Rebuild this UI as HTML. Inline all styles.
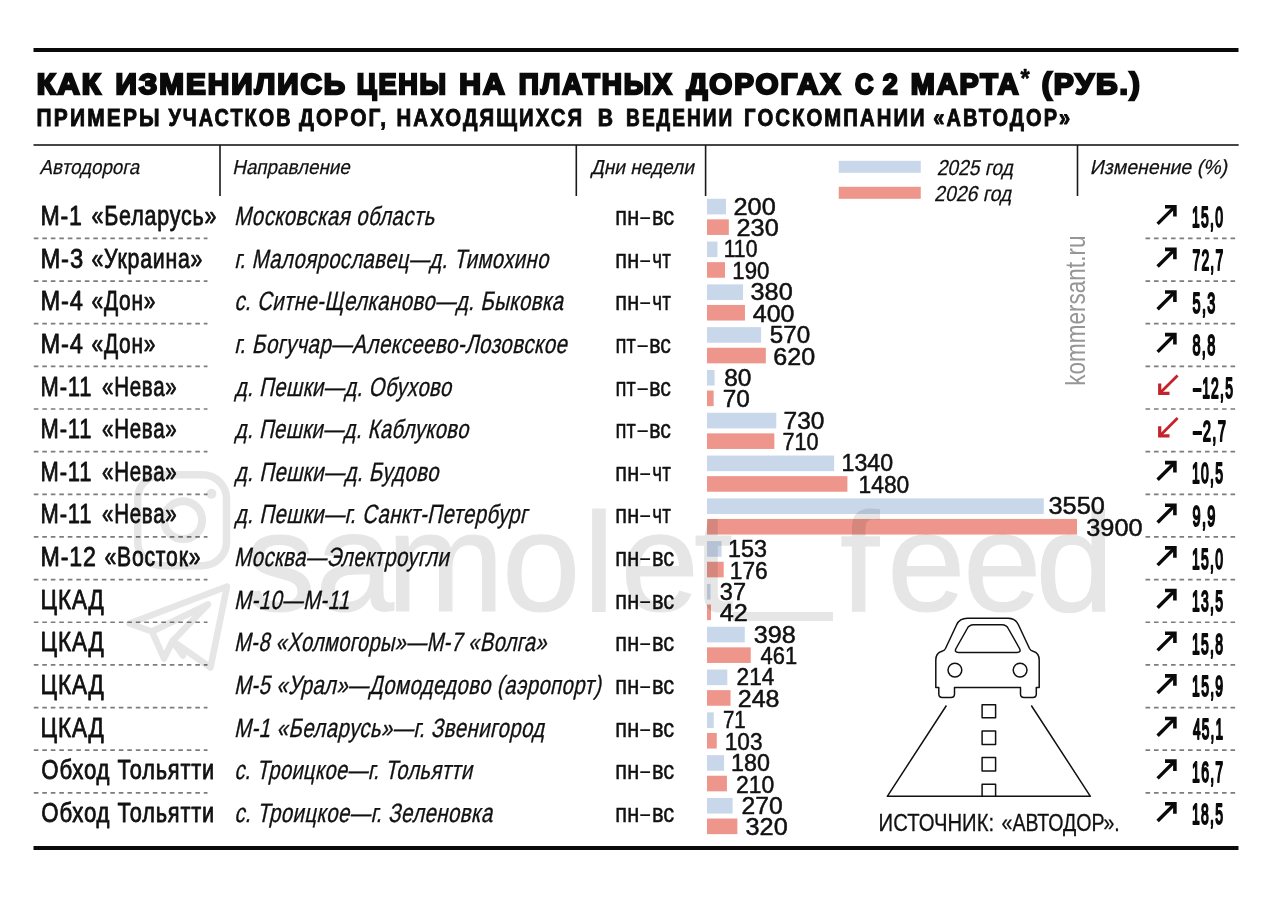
<!DOCTYPE html>
<html lang="ru"><head><meta charset="utf-8"><title>Как изменились цены на платных дорогах</title>
<style>html,body{margin:0;padding:0;background:#fff}svg{display:block}text{font-family:"Liberation Sans",sans-serif;white-space:pre}</style>
</head><body>
<svg width="1280" height="898" viewBox="0 0 1280 898">
<rect width="1280" height="898" fill="#fff"/>
<rect x="33.50" y="48.00" width="1205.00" height="4.00" fill="#0a0a0a"/>
<rect x="33.50" y="846.00" width="1205.00" height="4.00" fill="#0a0a0a"/>
<rect x="33.50" y="144.20" width="1205.20" height="1.60" fill="#1a1a1a"/>
<rect x="219.20" y="145.00" width="1.60" height="51.00" fill="#1a1a1a"/>
<rect x="575.50" y="145.00" width="1.60" height="51.00" fill="#1a1a1a"/>
<rect x="704.80" y="145.00" width="1.60" height="51.00" fill="#1a1a1a"/>
<rect x="1076.70" y="145.00" width="1.60" height="51.00" fill="#1a1a1a"/>
<text transform="translate(36.72,93.50) scale(1.0210,1)" font-size="30.2" font-weight="700" font-style="normal" fill="#0a0a0a" stroke="#0a0a0a" stroke-width="2.4" stroke-linejoin="miter" letter-spacing="2.0">КАК</text>
<text transform="translate(115.50,93.50) scale(0.9826,1)" font-size="30.2" font-weight="700" font-style="normal" fill="#0a0a0a" stroke="#0a0a0a" stroke-width="2.4" stroke-linejoin="miter" letter-spacing="2.0">ИЗМЕНИЛИСЬ</text>
<text transform="translate(356.82,93.50) scale(0.8971,1)" font-size="30.2" font-weight="700" font-style="normal" fill="#0a0a0a" stroke="#0a0a0a" stroke-width="2.4" stroke-linejoin="miter" letter-spacing="2.0">ЦЕНЫ</text>
<text transform="translate(459.24,93.50) scale(0.9962,1)" font-size="30.2" font-weight="700" font-style="normal" fill="#0a0a0a" stroke="#0a0a0a" stroke-width="2.4" stroke-linejoin="miter" letter-spacing="2.0">НА</text>
<text transform="translate(518.79,93.50) scale(0.9259,1)" font-size="30.2" font-weight="700" font-style="normal" fill="#0a0a0a" stroke="#0a0a0a" stroke-width="2.4" stroke-linejoin="miter" letter-spacing="2.0">ПЛАТНЫХ</text>
<text transform="translate(686.38,93.50) scale(0.9783,1)" font-size="30.2" font-weight="700" font-style="normal" fill="#0a0a0a" stroke="#0a0a0a" stroke-width="2.4" stroke-linejoin="miter" letter-spacing="2.0">ДОРОГАХ</text>
<text transform="translate(854.99,93.50) scale(0.8453,1)" font-size="30.2" font-weight="700" font-style="normal" fill="#0a0a0a" stroke="#0a0a0a" stroke-width="2.4" stroke-linejoin="miter" letter-spacing="2.0">С</text>
<text transform="translate(882.63,93.50) scale(0.8878,1)" font-size="30.2" font-weight="700" font-style="normal" fill="#0a0a0a" stroke="#0a0a0a" stroke-width="2.4" stroke-linejoin="miter" letter-spacing="2.0">2</text>
<text transform="translate(910.77,93.50) scale(0.9545,1)" font-size="30.2" font-weight="700" font-style="normal" fill="#0a0a0a" stroke="#0a0a0a" stroke-width="2.4" stroke-linejoin="miter" letter-spacing="2.0">МАРТА</text>
<text transform="translate(1041.69,93.50) scale(0.9942,1)" font-size="30.2" font-weight="700" font-style="normal" fill="#0a0a0a" stroke="#0a0a0a" stroke-width="2.4" stroke-linejoin="miter" letter-spacing="2.0">(РУБ.)</text>
<text transform="translate(1020.45,87.00) scale(0.9065,1)" font-size="26" font-weight="700" font-style="normal" fill="#0a0a0a" stroke="#0a0a0a" stroke-width="0.6" stroke-linejoin="round">*</text>
<text transform="translate(36.54,125.90) scale(0.8974,1)" font-size="23.4" font-weight="700" font-style="normal" fill="#0a0a0a" stroke="#0a0a0a" stroke-width="0.9" stroke-linejoin="miter" letter-spacing="2.4">ПРИМЕРЫ</text>
<text transform="translate(168.38,125.90) scale(0.8476,1)" font-size="23.4" font-weight="700" font-style="normal" fill="#0a0a0a" stroke="#0a0a0a" stroke-width="0.9" stroke-linejoin="miter" letter-spacing="2.4">УЧАСТКОВ</text>
<text transform="translate(298.94,125.90) scale(0.8933,1)" font-size="23.4" font-weight="700" font-style="normal" fill="#0a0a0a" stroke="#0a0a0a" stroke-width="0.9" stroke-linejoin="miter" letter-spacing="2.4">ДОРОГ,</text>
<text transform="translate(396.57,125.90) scale(0.8707,1)" font-size="23.4" font-weight="700" font-style="normal" fill="#0a0a0a" stroke="#0a0a0a" stroke-width="0.9" stroke-linejoin="miter" letter-spacing="2.4">НАХОДЯЩИХСЯ</text>
<text transform="translate(597.78,125.90) scale(0.9062,1)" font-size="23.4" font-weight="700" font-style="normal" fill="#0a0a0a" stroke="#0a0a0a" stroke-width="0.9" stroke-linejoin="miter" letter-spacing="2.4">В</text>
<text transform="translate(626.12,125.90) scale(0.8176,1)" font-size="23.4" font-weight="700" font-style="normal" fill="#0a0a0a" stroke="#0a0a0a" stroke-width="0.9" stroke-linejoin="miter" letter-spacing="2.4">ВЕДЕНИИ</text>
<text transform="translate(744.07,125.90) scale(0.8677,1)" font-size="23.4" font-weight="700" font-style="normal" fill="#0a0a0a" stroke="#0a0a0a" stroke-width="0.9" stroke-linejoin="miter" letter-spacing="2.4">ГОСКОМПАНИИ</text>
<text transform="translate(933.23,125.90) scale(0.8551,1)" font-size="23.4" font-weight="700" font-style="normal" fill="#0a0a0a" stroke="#0a0a0a" stroke-width="0.9" stroke-linejoin="miter" letter-spacing="2.4">«АВТОДОР»</text>
<text transform="translate(39.59,173.75) skewX(-12) scale(0.9239,1)" font-size="20.3" font-weight="400" font-style="normal" fill="#111" stroke="#111" stroke-width="0.25" stroke-linejoin="round">Автодорога</text>
<text transform="translate(232.34,173.75) skewX(-12) scale(0.9263,1)" font-size="20.3" font-weight="400" font-style="normal" fill="#111" stroke="#111" stroke-width="0.25" stroke-linejoin="round">Направление</text>
<text transform="translate(590.86,173.75) skewX(-12) scale(0.9402,1)" font-size="20.3" font-weight="400" font-style="normal" fill="#111" stroke="#111" stroke-width="0.25" stroke-linejoin="round">Дни недели</text>
<text transform="translate(1089.79,173.75) skewX(-12) scale(0.9620,1)" font-size="20.3" font-weight="400" font-style="normal" fill="#111" stroke="#111" stroke-width="0.25" stroke-linejoin="round">Изменение (%)</text>
<rect x="838.75" y="160.80" width="82.00" height="12.00" fill="#c9d7ea"/>
<rect x="838.75" y="186.80" width="82.00" height="12.00" fill="#ee968b"/>
<text transform="translate(936.63,174.50) skewX(-12) scale(0.8953,1)" font-size="21.5" font-weight="400" font-style="normal" fill="#111" stroke="#111" stroke-width="0.25" stroke-linejoin="round">2025 год</text>
<text transform="translate(934.12,200.75) skewX(-12) scale(0.9044,1)" font-size="21.5" font-weight="400" font-style="normal" fill="#111" stroke="#111" stroke-width="0.25" stroke-linejoin="round">2026 год</text>
<text transform="translate(40.49,225.00) scale(0.8558,1)" font-size="27" font-weight="400" font-style="normal" fill="#111" stroke="#111" stroke-width="0.8" stroke-linejoin="round" letter-spacing="1.0">М-1</text>
<text transform="translate(91.46,225.00) scale(0.7962,1)" font-size="27" font-weight="400" font-style="normal" fill="#111" stroke="#111" stroke-width="0.8" stroke-linejoin="round" letter-spacing="1.0">«Беларусь»</text>
<text transform="translate(233.97,225.00) skewX(-12) scale(0.7750,1)" font-size="26.4" font-weight="400" font-style="normal" fill="#111" stroke="#111" stroke-width="0.35" stroke-linejoin="round" letter-spacing="0.5">Московская область</text>
<text transform="translate(615.33,225.00) scale(0.8389,1)" font-size="26" font-weight="400" font-style="normal" fill="#111" stroke="#111" stroke-width="0.5" stroke-linejoin="round">пн</text>
<text transform="translate(640.20,225.00) scale(0.6791,1)" font-size="26" font-weight="400" font-style="normal" fill="#111">–</text>
<text transform="translate(651.98,225.00) scale(0.8391,1)" font-size="26" font-weight="400" font-style="normal" fill="#111" stroke="#111" stroke-width="0.5" stroke-linejoin="round">вс</text>
<rect x="707.00" y="198.75" width="18.97" height="15.60" fill="#c9d7ea"/>
<rect x="707.00" y="219.35" width="21.82" height="15.60" fill="#ee968b"/>
<text transform="translate(733.50,214.55) scale(1.0763,1)" font-size="23.5" font-weight="400" font-style="normal" fill="#111" stroke="#111" stroke-width="0.5" stroke-linejoin="round">200</text>
<text transform="translate(736.50,236.25) scale(1.0763,1)" font-size="23.5" font-weight="400" font-style="normal" fill="#111" stroke="#111" stroke-width="0.5" stroke-linejoin="round">230</text>
<text transform="translate(1192.11,227.30) scale(0.4831,1)" font-size="28.8" font-weight="400" font-style="normal" fill="#0a0a0a" stroke="#0a0a0a" stroke-width="1.7" stroke-linejoin="round" vector-effect="non-scaling-stroke" letter-spacing="2.6">15,0</text>
<g transform="translate(0,0.00)" fill="none" stroke="#0a0a0a" stroke-width="3.4"><path d="M1157.6 223.9 L1174.4 207.1"/><path d="M1165 206.7 H1174.9 V216.6" stroke-width="3.6"/></g>
<text transform="translate(40.45,267.62) scale(0.8804,1)" font-size="27" font-weight="400" font-style="normal" fill="#111" stroke="#111" stroke-width="0.8" stroke-linejoin="round" letter-spacing="1.0">М-3</text>
<text transform="translate(91.46,267.62) scale(0.7886,1)" font-size="27" font-weight="400" font-style="normal" fill="#111" stroke="#111" stroke-width="0.8" stroke-linejoin="round" letter-spacing="1.0">«Украина»</text>
<text transform="translate(234.19,267.62) skewX(-12) scale(0.7692,1)" font-size="26.4" font-weight="400" font-style="normal" fill="#111" stroke="#111" stroke-width="0.35" stroke-linejoin="round" letter-spacing="0.5">г. Малоярославец—д. Тимохино</text>
<text transform="translate(615.33,267.62) scale(0.8389,1)" font-size="26" font-weight="400" font-style="normal" fill="#111" stroke="#111" stroke-width="0.5" stroke-linejoin="round">пн</text>
<text transform="translate(640.20,267.62) scale(0.6791,1)" font-size="26" font-weight="400" font-style="normal" fill="#111">–</text>
<text transform="translate(652.35,267.62) scale(0.7238,1)" font-size="26" font-weight="400" font-style="normal" fill="#111" stroke="#111" stroke-width="0.5" stroke-linejoin="round">чт</text>
<rect x="707.00" y="241.55" width="10.44" height="15.60" fill="#c9d7ea"/>
<rect x="707.00" y="262.15" width="18.03" height="15.60" fill="#ee968b"/>
<text transform="translate(723.63,257.35) scale(0.9040,1)" font-size="23.5" font-weight="400" font-style="normal" fill="#111" stroke="#111" stroke-width="0.5" stroke-linejoin="round">110</text>
<text transform="translate(732.32,279.05) scale(0.9449,1)" font-size="23.5" font-weight="400" font-style="normal" fill="#111" stroke="#111" stroke-width="0.5" stroke-linejoin="round">190</text>
<text transform="translate(1192.46,269.95) scale(0.4808,1)" font-size="28.8" font-weight="400" font-style="normal" fill="#0a0a0a" stroke="#0a0a0a" stroke-width="1.7" stroke-linejoin="round" vector-effect="non-scaling-stroke" letter-spacing="2.6">72,7</text>
<g transform="translate(0,42.65)" fill="none" stroke="#0a0a0a" stroke-width="3.4"><path d="M1157.6 223.9 L1174.4 207.1"/><path d="M1165 206.7 H1174.9 V216.6" stroke-width="3.6"/></g>
<text transform="translate(40.46,310.25) scale(0.8753,1)" font-size="27" font-weight="400" font-style="normal" fill="#111" stroke="#111" stroke-width="0.8" stroke-linejoin="round" letter-spacing="1.0">М-4</text>
<text transform="translate(91.47,310.25) scale(0.7758,1)" font-size="27" font-weight="400" font-style="normal" fill="#111" stroke="#111" stroke-width="0.8" stroke-linejoin="round" letter-spacing="1.0">«Дон»</text>
<text transform="translate(234.17,310.25) skewX(-12) scale(0.7746,1)" font-size="26.4" font-weight="400" font-style="normal" fill="#111" stroke="#111" stroke-width="0.35" stroke-linejoin="round" letter-spacing="0.5">с. Ситне-Щелканово—д. Быковка</text>
<text transform="translate(615.33,310.25) scale(0.8389,1)" font-size="26" font-weight="400" font-style="normal" fill="#111" stroke="#111" stroke-width="0.5" stroke-linejoin="round">пн</text>
<text transform="translate(640.20,310.25) scale(0.6791,1)" font-size="26" font-weight="400" font-style="normal" fill="#111">–</text>
<text transform="translate(652.35,310.25) scale(0.7238,1)" font-size="26" font-weight="400" font-style="normal" fill="#111" stroke="#111" stroke-width="0.5" stroke-linejoin="round">чт</text>
<rect x="707.00" y="284.35" width="36.05" height="15.60" fill="#c9d7ea"/>
<rect x="707.00" y="304.95" width="37.95" height="15.60" fill="#ee968b"/>
<text transform="translate(750.51,300.15) scale(1.0762,1)" font-size="23.5" font-weight="400" font-style="normal" fill="#111" stroke="#111" stroke-width="0.5" stroke-linejoin="round">380</text>
<text transform="translate(752.77,321.85) scale(1.0630,1)" font-size="23.5" font-weight="400" font-style="normal" fill="#111" stroke="#111" stroke-width="0.5" stroke-linejoin="round">400</text>
<text transform="translate(1192.57,312.60) scale(0.5008,1)" font-size="28.8" font-weight="400" font-style="normal" fill="#0a0a0a" stroke="#0a0a0a" stroke-width="1.7" stroke-linejoin="round" vector-effect="non-scaling-stroke" letter-spacing="2.6">5,3</text>
<g transform="translate(0,85.30)" fill="none" stroke="#0a0a0a" stroke-width="3.4"><path d="M1157.6 223.9 L1174.4 207.1"/><path d="M1165 206.7 H1174.9 V216.6" stroke-width="3.6"/></g>
<text transform="translate(40.46,352.88) scale(0.8753,1)" font-size="27" font-weight="400" font-style="normal" fill="#111" stroke="#111" stroke-width="0.8" stroke-linejoin="round" letter-spacing="1.0">М-4</text>
<text transform="translate(91.47,352.88) scale(0.7758,1)" font-size="27" font-weight="400" font-style="normal" fill="#111" stroke="#111" stroke-width="0.8" stroke-linejoin="round" letter-spacing="1.0">«Дон»</text>
<text transform="translate(234.16,352.88) skewX(-12) scale(0.7818,1)" font-size="26.4" font-weight="400" font-style="normal" fill="#111" stroke="#111" stroke-width="0.35" stroke-linejoin="round" letter-spacing="0.5">г. Богучар—Алексеево-Лозовское</text>
<text transform="translate(615.43,352.88) scale(0.7802,1)" font-size="26" font-weight="400" font-style="normal" fill="#111" stroke="#111" stroke-width="0.5" stroke-linejoin="round">пт</text>
<text transform="translate(637.40,352.88) scale(0.7138,1)" font-size="26" font-weight="400" font-style="normal" fill="#111">–</text>
<text transform="translate(649.21,352.88) scale(0.8187,1)" font-size="26" font-weight="400" font-style="normal" fill="#111" stroke="#111" stroke-width="0.5" stroke-linejoin="round">вс</text>
<rect x="707.00" y="327.15" width="54.08" height="15.60" fill="#c9d7ea"/>
<rect x="707.00" y="347.75" width="58.82" height="15.60" fill="#ee968b"/>
<text transform="translate(769.79,342.95) scale(1.0300,1)" font-size="23.5" font-weight="400" font-style="normal" fill="#111" stroke="#111" stroke-width="0.5" stroke-linejoin="round">570</text>
<text transform="translate(773.26,364.65) scale(1.0696,1)" font-size="23.5" font-weight="400" font-style="normal" fill="#111" stroke="#111" stroke-width="0.5" stroke-linejoin="round">620</text>
<text transform="translate(1192.50,355.25) scale(0.5025,1)" font-size="28.8" font-weight="400" font-style="normal" fill="#0a0a0a" stroke="#0a0a0a" stroke-width="1.7" stroke-linejoin="round" vector-effect="non-scaling-stroke" letter-spacing="2.6">8,8</text>
<g transform="translate(0,127.95)" fill="none" stroke="#0a0a0a" stroke-width="3.4"><path d="M1157.6 223.9 L1174.4 207.1"/><path d="M1165 206.7 H1174.9 V216.6" stroke-width="3.6"/></g>
<text transform="translate(40.57,395.50) scale(0.8130,1)" font-size="27" font-weight="400" font-style="normal" fill="#111" stroke="#111" stroke-width="0.8" stroke-linejoin="round" letter-spacing="1.0">М-11</text>
<text transform="translate(101.98,395.50) scale(0.7588,1)" font-size="27" font-weight="400" font-style="normal" fill="#111" stroke="#111" stroke-width="0.8" stroke-linejoin="round" letter-spacing="1.0">«Нева»</text>
<text transform="translate(234.78,395.50) skewX(-12) scale(0.7706,1)" font-size="26.4" font-weight="400" font-style="normal" fill="#111" stroke="#111" stroke-width="0.35" stroke-linejoin="round" letter-spacing="0.5">д. Пешки—д. Обухово</text>
<text transform="translate(615.43,395.50) scale(0.7802,1)" font-size="26" font-weight="400" font-style="normal" fill="#111" stroke="#111" stroke-width="0.5" stroke-linejoin="round">пт</text>
<text transform="translate(637.40,395.50) scale(0.7138,1)" font-size="26" font-weight="400" font-style="normal" fill="#111">–</text>
<text transform="translate(649.21,395.50) scale(0.8187,1)" font-size="26" font-weight="400" font-style="normal" fill="#111" stroke="#111" stroke-width="0.5" stroke-linejoin="round">вс</text>
<rect x="707.00" y="369.95" width="7.59" height="15.60" fill="#c9d7ea"/>
<rect x="707.00" y="390.55" width="6.64" height="15.60" fill="#ee968b"/>
<text transform="translate(724.16,385.75) scale(1.0423,1)" font-size="23.5" font-weight="400" font-style="normal" fill="#111" stroke="#111" stroke-width="0.5" stroke-linejoin="round">80</text>
<text transform="translate(722.79,407.45) scale(1.0371,1)" font-size="23.5" font-weight="400" font-style="normal" fill="#111" stroke="#111" stroke-width="0.5" stroke-linejoin="round">70</text>
<text transform="translate(1193.15,397.90) scale(0.4825,1)" font-size="28.8" font-weight="400" font-style="normal" fill="#0a0a0a" stroke="#0a0a0a" stroke-width="1.7" stroke-linejoin="round" vector-effect="non-scaling-stroke" letter-spacing="2.6">–12,5</text>
<g transform="translate(0,0.00)" fill="none" stroke="#c4232b" stroke-width="2.8"><path d="M1177.6 375.4 L1160.2 392.8"/><path d="M1159.7 383.5 V393.3 H1169.5" stroke-width="3.2"/></g>
<text transform="translate(40.57,438.12) scale(0.8130,1)" font-size="27" font-weight="400" font-style="normal" fill="#111" stroke="#111" stroke-width="0.8" stroke-linejoin="round" letter-spacing="1.0">М-11</text>
<text transform="translate(101.98,438.12) scale(0.7588,1)" font-size="27" font-weight="400" font-style="normal" fill="#111" stroke="#111" stroke-width="0.8" stroke-linejoin="round" letter-spacing="1.0">«Нева»</text>
<text transform="translate(234.78,438.12) skewX(-12) scale(0.7651,1)" font-size="26.4" font-weight="400" font-style="normal" fill="#111" stroke="#111" stroke-width="0.35" stroke-linejoin="round" letter-spacing="0.5">д. Пешки—д. Каблуково</text>
<text transform="translate(615.43,438.12) scale(0.7802,1)" font-size="26" font-weight="400" font-style="normal" fill="#111" stroke="#111" stroke-width="0.5" stroke-linejoin="round">пт</text>
<text transform="translate(637.40,438.12) scale(0.7138,1)" font-size="26" font-weight="400" font-style="normal" fill="#111">–</text>
<text transform="translate(649.21,438.12) scale(0.8187,1)" font-size="26" font-weight="400" font-style="normal" fill="#111" stroke="#111" stroke-width="0.5" stroke-linejoin="round">вс</text>
<rect x="707.00" y="412.75" width="69.26" height="15.60" fill="#c9d7ea"/>
<rect x="707.00" y="433.35" width="67.36" height="15.60" fill="#ee968b"/>
<text transform="translate(783.54,428.55) scale(1.0431,1)" font-size="23.5" font-weight="400" font-style="normal" fill="#111" stroke="#111" stroke-width="0.5" stroke-linejoin="round">730</text>
<text transform="translate(782.40,450.25) scale(0.9235,1)" font-size="23.5" font-weight="400" font-style="normal" fill="#111" stroke="#111" stroke-width="0.5" stroke-linejoin="round">710</text>
<text transform="translate(1193.15,440.55) scale(0.5130,1)" font-size="28.8" font-weight="400" font-style="normal" fill="#0a0a0a" stroke="#0a0a0a" stroke-width="1.7" stroke-linejoin="round" vector-effect="non-scaling-stroke" letter-spacing="2.6">–2,7</text>
<g transform="translate(0,42.65)" fill="none" stroke="#c4232b" stroke-width="2.8"><path d="M1177.6 375.4 L1160.2 392.8"/><path d="M1159.7 383.5 V393.3 H1169.5" stroke-width="3.2"/></g>
<text transform="translate(40.57,480.75) scale(0.8130,1)" font-size="27" font-weight="400" font-style="normal" fill="#111" stroke="#111" stroke-width="0.8" stroke-linejoin="round" letter-spacing="1.0">М-11</text>
<text transform="translate(101.98,480.75) scale(0.7588,1)" font-size="27" font-weight="400" font-style="normal" fill="#111" stroke="#111" stroke-width="0.8" stroke-linejoin="round" letter-spacing="1.0">«Нева»</text>
<text transform="translate(234.78,480.75) skewX(-12) scale(0.7717,1)" font-size="26.4" font-weight="400" font-style="normal" fill="#111" stroke="#111" stroke-width="0.35" stroke-linejoin="round" letter-spacing="0.5">д. Пешки—д. Будово</text>
<text transform="translate(615.33,480.75) scale(0.8389,1)" font-size="26" font-weight="400" font-style="normal" fill="#111" stroke="#111" stroke-width="0.5" stroke-linejoin="round">пн</text>
<text transform="translate(640.20,480.75) scale(0.6791,1)" font-size="26" font-weight="400" font-style="normal" fill="#111">–</text>
<text transform="translate(652.35,480.75) scale(0.7238,1)" font-size="26" font-weight="400" font-style="normal" fill="#111" stroke="#111" stroke-width="0.5" stroke-linejoin="round">чт</text>
<rect x="707.00" y="455.55" width="127.13" height="15.60" fill="#c9d7ea"/>
<rect x="707.00" y="476.15" width="140.41" height="15.60" fill="#ee968b"/>
<text transform="translate(841.51,471.35) scale(0.9860,1)" font-size="23.5" font-weight="400" font-style="normal" fill="#111" stroke="#111" stroke-width="0.5" stroke-linejoin="round">1340</text>
<text transform="translate(858.53,493.05) scale(0.9711,1)" font-size="23.5" font-weight="400" font-style="normal" fill="#111" stroke="#111" stroke-width="0.5" stroke-linejoin="round">1480</text>
<text transform="translate(1192.10,483.20) scale(0.4843,1)" font-size="28.8" font-weight="400" font-style="normal" fill="#0a0a0a" stroke="#0a0a0a" stroke-width="1.7" stroke-linejoin="round" vector-effect="non-scaling-stroke" letter-spacing="2.6">10,5</text>
<g transform="translate(0,255.90)" fill="none" stroke="#0a0a0a" stroke-width="3.4"><path d="M1157.6 223.9 L1174.4 207.1"/><path d="M1165 206.7 H1174.9 V216.6" stroke-width="3.6"/></g>
<text transform="translate(40.57,523.38) scale(0.8130,1)" font-size="27" font-weight="400" font-style="normal" fill="#111" stroke="#111" stroke-width="0.8" stroke-linejoin="round" letter-spacing="1.0">М-11</text>
<text transform="translate(101.98,523.38) scale(0.7588,1)" font-size="27" font-weight="400" font-style="normal" fill="#111" stroke="#111" stroke-width="0.8" stroke-linejoin="round" letter-spacing="1.0">«Нева»</text>
<text transform="translate(234.78,523.38) skewX(-12) scale(0.7728,1)" font-size="26.4" font-weight="400" font-style="normal" fill="#111" stroke="#111" stroke-width="0.35" stroke-linejoin="round" letter-spacing="0.5">д. Пешки—г. Санкт-Петербург</text>
<text transform="translate(615.33,523.38) scale(0.8389,1)" font-size="26" font-weight="400" font-style="normal" fill="#111" stroke="#111" stroke-width="0.5" stroke-linejoin="round">пн</text>
<text transform="translate(640.20,523.38) scale(0.6791,1)" font-size="26" font-weight="400" font-style="normal" fill="#111">–</text>
<text transform="translate(652.35,523.38) scale(0.7238,1)" font-size="26" font-weight="400" font-style="normal" fill="#111" stroke="#111" stroke-width="0.5" stroke-linejoin="round">чт</text>
<rect x="707.00" y="498.35" width="336.79" height="15.60" fill="#c9d7ea"/>
<rect x="707.00" y="518.95" width="369.99" height="15.60" fill="#ee968b"/>
<text transform="translate(1048.51,514.15) scale(1.0779,1)" font-size="23.5" font-weight="400" font-style="normal" fill="#111" stroke="#111" stroke-width="0.5" stroke-linejoin="round">3550</text>
<text transform="translate(1086.26,535.85) scale(1.0779,1)" font-size="23.5" font-weight="400" font-style="normal" fill="#111" stroke="#111" stroke-width="0.5" stroke-linejoin="round">3900</text>
<text transform="translate(1192.50,525.85) scale(0.5042,1)" font-size="28.8" font-weight="400" font-style="normal" fill="#0a0a0a" stroke="#0a0a0a" stroke-width="1.7" stroke-linejoin="round" vector-effect="non-scaling-stroke" letter-spacing="2.6">9,9</text>
<g transform="translate(0,298.55)" fill="none" stroke="#0a0a0a" stroke-width="3.4"><path d="M1157.6 223.9 L1174.4 207.1"/><path d="M1165 206.7 H1174.9 V216.6" stroke-width="3.6"/></g>
<text transform="translate(40.49,566.00) scale(0.8588,1)" font-size="27" font-weight="400" font-style="normal" fill="#111" stroke="#111" stroke-width="0.8" stroke-linejoin="round" letter-spacing="1.0">М-12</text>
<text transform="translate(104.47,566.00) scale(0.7847,1)" font-size="27" font-weight="400" font-style="normal" fill="#111" stroke="#111" stroke-width="0.8" stroke-linejoin="round" letter-spacing="1.0">«Восток»</text>
<text transform="translate(233.98,566.00) skewX(-12) scale(0.7708,1)" font-size="26.4" font-weight="400" font-style="normal" fill="#111" stroke="#111" stroke-width="0.35" stroke-linejoin="round" letter-spacing="0.5">Москва—Электроугли</text>
<text transform="translate(615.33,566.00) scale(0.8389,1)" font-size="26" font-weight="400" font-style="normal" fill="#111" stroke="#111" stroke-width="0.5" stroke-linejoin="round">пн</text>
<text transform="translate(640.20,566.00) scale(0.6791,1)" font-size="26" font-weight="400" font-style="normal" fill="#111">–</text>
<text transform="translate(651.98,566.00) scale(0.8391,1)" font-size="26" font-weight="400" font-style="normal" fill="#111" stroke="#111" stroke-width="0.5" stroke-linejoin="round">вс</text>
<rect x="707.00" y="541.15" width="14.52" height="15.60" fill="#c9d7ea"/>
<rect x="707.00" y="561.75" width="16.70" height="15.60" fill="#ee968b"/>
<text transform="translate(727.99,556.95) scale(0.9953,1)" font-size="23.5" font-weight="400" font-style="normal" fill="#111" stroke="#111" stroke-width="0.5" stroke-linejoin="round">153</text>
<text transform="translate(729.79,578.65) scale(0.9682,1)" font-size="23.5" font-weight="400" font-style="normal" fill="#111" stroke="#111" stroke-width="0.5" stroke-linejoin="round">176</text>
<text transform="translate(1192.11,568.50) scale(0.4831,1)" font-size="28.8" font-weight="400" font-style="normal" fill="#0a0a0a" stroke="#0a0a0a" stroke-width="1.7" stroke-linejoin="round" vector-effect="non-scaling-stroke" letter-spacing="2.6">15,0</text>
<g transform="translate(0,341.20)" fill="none" stroke="#0a0a0a" stroke-width="3.4"><path d="M1157.6 223.9 L1174.4 207.1"/><path d="M1165 206.7 H1174.9 V216.6" stroke-width="3.6"/></g>
<text transform="translate(40.53,608.62) scale(0.8329,1)" font-size="27" font-weight="400" font-style="normal" fill="#111" stroke="#111" stroke-width="0.8" stroke-linejoin="round" letter-spacing="1.0">ЦКАД</text>
<text transform="translate(233.97,608.62) skewX(-12) scale(0.7745,1)" font-size="26.4" font-weight="400" font-style="normal" fill="#111" stroke="#111" stroke-width="0.35" stroke-linejoin="round" letter-spacing="0.5">М-10—М-11</text>
<text transform="translate(615.33,608.62) scale(0.8389,1)" font-size="26" font-weight="400" font-style="normal" fill="#111" stroke="#111" stroke-width="0.5" stroke-linejoin="round">пн</text>
<text transform="translate(640.20,608.62) scale(0.6791,1)" font-size="26" font-weight="400" font-style="normal" fill="#111">–</text>
<text transform="translate(651.98,608.62) scale(0.8391,1)" font-size="26" font-weight="400" font-style="normal" fill="#111" stroke="#111" stroke-width="0.5" stroke-linejoin="round">вс</text>
<rect x="707.00" y="583.95" width="3.51" height="15.60" fill="#c9d7ea"/>
<rect x="707.00" y="604.55" width="3.98" height="15.60" fill="#ee968b"/>
<text transform="translate(719.81,599.75) scale(1.0012,1)" font-size="23.5" font-weight="400" font-style="normal" fill="#111" stroke="#111" stroke-width="0.5" stroke-linejoin="round">37</text>
<text transform="translate(719.76,621.45) scale(1.0726,1)" font-size="23.5" font-weight="400" font-style="normal" fill="#111" stroke="#111" stroke-width="0.5" stroke-linejoin="round">42</text>
<text transform="translate(1192.10,611.15) scale(0.4843,1)" font-size="28.8" font-weight="400" font-style="normal" fill="#0a0a0a" stroke="#0a0a0a" stroke-width="1.7" stroke-linejoin="round" vector-effect="non-scaling-stroke" letter-spacing="2.6">13,5</text>
<g transform="translate(0,383.85)" fill="none" stroke="#0a0a0a" stroke-width="3.4"><path d="M1157.6 223.9 L1174.4 207.1"/><path d="M1165 206.7 H1174.9 V216.6" stroke-width="3.6"/></g>
<text transform="translate(40.53,651.25) scale(0.8329,1)" font-size="27" font-weight="400" font-style="normal" fill="#111" stroke="#111" stroke-width="0.8" stroke-linejoin="round" letter-spacing="1.0">ЦКАД</text>
<text transform="translate(234.00,651.25) skewX(-12) scale(0.7593,1)" font-size="26.4" font-weight="400" font-style="normal" fill="#111" stroke="#111" stroke-width="0.35" stroke-linejoin="round" letter-spacing="0.5">М-8 «Холмогоры»—М-7 «Волга»</text>
<text transform="translate(615.33,651.25) scale(0.8389,1)" font-size="26" font-weight="400" font-style="normal" fill="#111" stroke="#111" stroke-width="0.5" stroke-linejoin="round">пн</text>
<text transform="translate(640.20,651.25) scale(0.6791,1)" font-size="26" font-weight="400" font-style="normal" fill="#111">–</text>
<text transform="translate(651.98,651.25) scale(0.8391,1)" font-size="26" font-weight="400" font-style="normal" fill="#111" stroke="#111" stroke-width="0.5" stroke-linejoin="round">вс</text>
<rect x="707.00" y="626.75" width="37.76" height="15.60" fill="#c9d7ea"/>
<rect x="707.00" y="647.35" width="43.74" height="15.60" fill="#ee968b"/>
<text transform="translate(753.76,642.55) scale(1.0729,1)" font-size="23.5" font-weight="400" font-style="normal" fill="#111" stroke="#111" stroke-width="0.5" stroke-linejoin="round">398</text>
<text transform="translate(760.55,664.25) scale(0.9318,1)" font-size="23.5" font-weight="400" font-style="normal" fill="#111" stroke="#111" stroke-width="0.5" stroke-linejoin="round">461</text>
<text transform="translate(1192.10,653.80) scale(0.4843,1)" font-size="28.8" font-weight="400" font-style="normal" fill="#0a0a0a" stroke="#0a0a0a" stroke-width="1.7" stroke-linejoin="round" vector-effect="non-scaling-stroke" letter-spacing="2.6">15,8</text>
<g transform="translate(0,426.50)" fill="none" stroke="#0a0a0a" stroke-width="3.4"><path d="M1157.6 223.9 L1174.4 207.1"/><path d="M1165 206.7 H1174.9 V216.6" stroke-width="3.6"/></g>
<text transform="translate(40.53,693.88) scale(0.8329,1)" font-size="27" font-weight="400" font-style="normal" fill="#111" stroke="#111" stroke-width="0.8" stroke-linejoin="round" letter-spacing="1.0">ЦКАД</text>
<text transform="translate(233.98,693.88) skewX(-12) scale(0.7724,1)" font-size="26.4" font-weight="400" font-style="normal" fill="#111" stroke="#111" stroke-width="0.35" stroke-linejoin="round" letter-spacing="0.5">М-5 «Урал»—Домодедово (аэропорт)</text>
<text transform="translate(615.33,693.88) scale(0.8389,1)" font-size="26" font-weight="400" font-style="normal" fill="#111" stroke="#111" stroke-width="0.5" stroke-linejoin="round">пн</text>
<text transform="translate(640.20,693.88) scale(0.6791,1)" font-size="26" font-weight="400" font-style="normal" fill="#111">–</text>
<text transform="translate(651.98,693.88) scale(0.8391,1)" font-size="26" font-weight="400" font-style="normal" fill="#111" stroke="#111" stroke-width="0.5" stroke-linejoin="round">вс</text>
<rect x="707.00" y="669.55" width="20.30" height="15.60" fill="#c9d7ea"/>
<rect x="707.00" y="690.15" width="23.53" height="15.60" fill="#ee968b"/>
<text transform="translate(736.61,685.35) scale(0.9603,1)" font-size="23.5" font-weight="400" font-style="normal" fill="#111" stroke="#111" stroke-width="0.5" stroke-linejoin="round">214</text>
<text transform="translate(737.76,707.05) scale(1.0663,1)" font-size="23.5" font-weight="400" font-style="normal" fill="#111" stroke="#111" stroke-width="0.5" stroke-linejoin="round">248</text>
<text transform="translate(1192.10,696.45) scale(0.4854,1)" font-size="28.8" font-weight="400" font-style="normal" fill="#0a0a0a" stroke="#0a0a0a" stroke-width="1.7" stroke-linejoin="round" vector-effect="non-scaling-stroke" letter-spacing="2.6">15,9</text>
<g transform="translate(0,469.15)" fill="none" stroke="#0a0a0a" stroke-width="3.4"><path d="M1157.6 223.9 L1174.4 207.1"/><path d="M1165 206.7 H1174.9 V216.6" stroke-width="3.6"/></g>
<text transform="translate(40.53,736.50) scale(0.8329,1)" font-size="27" font-weight="400" font-style="normal" fill="#111" stroke="#111" stroke-width="0.8" stroke-linejoin="round" letter-spacing="1.0">ЦКАД</text>
<text transform="translate(233.97,736.50) skewX(-12) scale(0.7751,1)" font-size="26.4" font-weight="400" font-style="normal" fill="#111" stroke="#111" stroke-width="0.35" stroke-linejoin="round" letter-spacing="0.5">М-1 «Беларусь»—г. Звенигород</text>
<text transform="translate(615.33,736.50) scale(0.8389,1)" font-size="26" font-weight="400" font-style="normal" fill="#111" stroke="#111" stroke-width="0.5" stroke-linejoin="round">пн</text>
<text transform="translate(640.20,736.50) scale(0.6791,1)" font-size="26" font-weight="400" font-style="normal" fill="#111">–</text>
<text transform="translate(651.98,736.50) scale(0.8391,1)" font-size="26" font-weight="400" font-style="normal" fill="#111" stroke="#111" stroke-width="0.5" stroke-linejoin="round">вс</text>
<rect x="707.00" y="712.35" width="6.74" height="15.60" fill="#c9d7ea"/>
<rect x="707.00" y="732.95" width="9.77" height="15.60" fill="#ee968b"/>
<text transform="translate(722.94,728.15) scale(0.8726,1)" font-size="23.5" font-weight="400" font-style="normal" fill="#111" stroke="#111" stroke-width="0.5" stroke-linejoin="round">71</text>
<text transform="translate(724.80,749.85) scale(0.9614,1)" font-size="23.5" font-weight="400" font-style="normal" fill="#111" stroke="#111" stroke-width="0.5" stroke-linejoin="round">103</text>
<text transform="translate(1192.88,739.10) scale(0.4730,1)" font-size="28.8" font-weight="400" font-style="normal" fill="#0a0a0a" stroke="#0a0a0a" stroke-width="1.7" stroke-linejoin="round" vector-effect="non-scaling-stroke" letter-spacing="2.6">45,1</text>
<g transform="translate(0,511.80)" fill="none" stroke="#0a0a0a" stroke-width="3.4"><path d="M1157.6 223.9 L1174.4 207.1"/><path d="M1165 206.7 H1174.9 V216.6" stroke-width="3.6"/></g>
<text transform="translate(41.33,779.12) scale(0.8230,1)" font-size="27" font-weight="400" font-style="normal" fill="#111" stroke="#111" stroke-width="0.8" stroke-linejoin="round" letter-spacing="1.0">Обход</text>
<text transform="translate(117.39,779.12) scale(0.8059,1)" font-size="27" font-weight="400" font-style="normal" fill="#111" stroke="#111" stroke-width="0.8" stroke-linejoin="round" letter-spacing="1.0">Тольятти</text>
<text transform="translate(234.18,779.12) skewX(-12) scale(0.7622,1)" font-size="26.4" font-weight="400" font-style="normal" fill="#111" stroke="#111" stroke-width="0.35" stroke-linejoin="round" letter-spacing="0.5">с. Троицкое—г. Тольятти</text>
<text transform="translate(615.33,779.12) scale(0.8389,1)" font-size="26" font-weight="400" font-style="normal" fill="#111" stroke="#111" stroke-width="0.5" stroke-linejoin="round">пн</text>
<text transform="translate(640.20,779.12) scale(0.6791,1)" font-size="26" font-weight="400" font-style="normal" fill="#111">–</text>
<text transform="translate(651.98,779.12) scale(0.8391,1)" font-size="26" font-weight="400" font-style="normal" fill="#111" stroke="#111" stroke-width="0.5" stroke-linejoin="round">вс</text>
<rect x="707.00" y="755.15" width="17.08" height="15.60" fill="#c9d7ea"/>
<rect x="707.00" y="775.75" width="19.92" height="15.60" fill="#ee968b"/>
<text transform="translate(731.00,770.95) scale(0.9921,1)" font-size="23.5" font-weight="400" font-style="normal" fill="#111" stroke="#111" stroke-width="0.5" stroke-linejoin="round">180</text>
<text transform="translate(736.10,792.65) scale(0.9766,1)" font-size="23.5" font-weight="400" font-style="normal" fill="#111" stroke="#111" stroke-width="0.5" stroke-linejoin="round">210</text>
<text transform="translate(1192.10,781.75) scale(0.4866,1)" font-size="28.8" font-weight="400" font-style="normal" fill="#0a0a0a" stroke="#0a0a0a" stroke-width="1.7" stroke-linejoin="round" vector-effect="non-scaling-stroke" letter-spacing="2.6">16,7</text>
<g transform="translate(0,554.45)" fill="none" stroke="#0a0a0a" stroke-width="3.4"><path d="M1157.6 223.9 L1174.4 207.1"/><path d="M1165 206.7 H1174.9 V216.6" stroke-width="3.6"/></g>
<text transform="translate(41.33,821.75) scale(0.8230,1)" font-size="27" font-weight="400" font-style="normal" fill="#111" stroke="#111" stroke-width="0.8" stroke-linejoin="round" letter-spacing="1.0">Обход</text>
<text transform="translate(117.39,821.75) scale(0.8059,1)" font-size="27" font-weight="400" font-style="normal" fill="#111" stroke="#111" stroke-width="0.8" stroke-linejoin="round" letter-spacing="1.0">Тольятти</text>
<text transform="translate(234.17,821.75) skewX(-12) scale(0.7774,1)" font-size="26.4" font-weight="400" font-style="normal" fill="#111" stroke="#111" stroke-width="0.35" stroke-linejoin="round" letter-spacing="0.5">с. Троицкое—г. Зеленовка</text>
<text transform="translate(615.33,821.75) scale(0.8389,1)" font-size="26" font-weight="400" font-style="normal" fill="#111" stroke="#111" stroke-width="0.5" stroke-linejoin="round">пн</text>
<text transform="translate(640.20,821.75) scale(0.6791,1)" font-size="26" font-weight="400" font-style="normal" fill="#111">–</text>
<text transform="translate(651.98,821.75) scale(0.8391,1)" font-size="26" font-weight="400" font-style="normal" fill="#111" stroke="#111" stroke-width="0.5" stroke-linejoin="round">вс</text>
<rect x="707.00" y="797.95" width="25.61" height="15.60" fill="#c9d7ea"/>
<rect x="707.00" y="818.55" width="30.36" height="15.60" fill="#ee968b"/>
<text transform="translate(741.53,813.75) scale(1.0497,1)" font-size="23.5" font-weight="400" font-style="normal" fill="#111" stroke="#111" stroke-width="0.5" stroke-linejoin="round">270</text>
<text transform="translate(745.51,835.45) scale(1.0762,1)" font-size="23.5" font-weight="400" font-style="normal" fill="#111" stroke="#111" stroke-width="0.5" stroke-linejoin="round">320</text>
<text transform="translate(1192.10,824.40) scale(0.4843,1)" font-size="28.8" font-weight="400" font-style="normal" fill="#0a0a0a" stroke="#0a0a0a" stroke-width="1.7" stroke-linejoin="round" vector-effect="non-scaling-stroke" letter-spacing="2.6">18,5</text>
<g transform="translate(0,597.10)" fill="none" stroke="#0a0a0a" stroke-width="3.4"><path d="M1157.6 223.9 L1174.4 207.1"/><path d="M1165 206.7 H1174.9 V216.6" stroke-width="3.6"/></g>
<path d="M33.8 238.40 H207.5 M1145.5 238.40 H1238.7" stroke="#7c7c7c" stroke-width="1.7" stroke-dasharray="4.6 3.9" fill="none"/>
<path d="M33.8 281.05 H207.5 M1145.5 281.05 H1238.7" stroke="#7c7c7c" stroke-width="1.7" stroke-dasharray="4.6 3.9" fill="none"/>
<path d="M33.8 323.70 H207.5 M1145.5 323.70 H1238.7" stroke="#7c7c7c" stroke-width="1.7" stroke-dasharray="4.6 3.9" fill="none"/>
<path d="M33.8 366.35 H207.5 M1145.5 366.35 H1238.7" stroke="#7c7c7c" stroke-width="1.7" stroke-dasharray="4.6 3.9" fill="none"/>
<path d="M33.8 409.00 H207.5 M1145.5 409.00 H1238.7" stroke="#7c7c7c" stroke-width="1.7" stroke-dasharray="4.6 3.9" fill="none"/>
<path d="M33.8 451.65 H207.5 M1145.5 451.65 H1238.7" stroke="#7c7c7c" stroke-width="1.7" stroke-dasharray="4.6 3.9" fill="none"/>
<path d="M33.8 494.30 H207.5 M1145.5 494.30 H1238.7" stroke="#7c7c7c" stroke-width="1.7" stroke-dasharray="4.6 3.9" fill="none"/>
<path d="M33.8 536.95 H207.5 M1145.5 536.95 H1238.7" stroke="#7c7c7c" stroke-width="1.7" stroke-dasharray="4.6 3.9" fill="none"/>
<path d="M33.8 579.60 H207.5 M1145.5 579.60 H1238.7" stroke="#7c7c7c" stroke-width="1.7" stroke-dasharray="4.6 3.9" fill="none"/>
<path d="M33.8 622.25 H207.5 M1145.5 622.25 H1238.7" stroke="#7c7c7c" stroke-width="1.7" stroke-dasharray="4.6 3.9" fill="none"/>
<path d="M33.8 664.90 H207.5 M1145.5 664.90 H1238.7" stroke="#7c7c7c" stroke-width="1.7" stroke-dasharray="4.6 3.9" fill="none"/>
<path d="M33.8 707.55 H207.5 M1145.5 707.55 H1238.7" stroke="#7c7c7c" stroke-width="1.7" stroke-dasharray="4.6 3.9" fill="none"/>
<path d="M33.8 750.20 H207.5 M1145.5 750.20 H1238.7" stroke="#7c7c7c" stroke-width="1.7" stroke-dasharray="4.6 3.9" fill="none"/>
<path d="M33.8 792.85 H207.5 M1145.5 792.85 H1238.7" stroke="#7c7c7c" stroke-width="1.7" stroke-dasharray="4.6 3.9" fill="none"/>
<text transform="translate(1085,385.76) rotate(-90) scale(0.7931,1)" font-size="28.4" fill="#969696">kommersant.ru</text>
<text transform="translate(878.61,830.60) scale(0.8521,1)" font-size="23.8" font-weight="400" font-style="normal" fill="#111" stroke="#111" stroke-width="0.3" stroke-linejoin="round">ИСТОЧНИК:</text>
<text transform="translate(1001.54,830.60) scale(0.8222,1)" font-size="23.8" font-weight="400" font-style="normal" fill="#111" stroke="#111" stroke-width="0.3" stroke-linejoin="round">«АВТОДОР».</text>
<g fill="none" stroke="#111" stroke-width="1.5" stroke-linejoin="round">
<path d="M967.5 618.3 H1008 Q1015.5 618.3 1018.5 625 L1029.5 648.5 Q1030.5 650.5 1033 651.2 Q1039.2 653 1039.2 660 V687.5 H1036.3 V694 Q1036.3 697.5 1032.8 697.5 H1024 Q1020.5 697.5 1020.5 694 V687.5 H954.5 V694 Q954.5 697.5 951 697.5 H942.3 Q938.8 697.5 938.8 694 V687.5 H935.8 V660 Q935.8 653 942 651.2 Q944.5 650.5 945.5 648.5 L956.5 625 Q959.5 618.3 967.5 618.3 Z"/>
<path d="M973.5 624.8 H1002 Q1006.5 624.8 1008.5 629 L1019.5 648.5 Q1021.5 652.4 1017 652.4 H958.5 Q954 652.4 956 648.5 L967 629 Q969 624.8 973.5 624.8 Z"/>
<circle cx="954.9" cy="670.1" r="6.9"/><circle cx="1020.1" cy="670.1" r="6.9"/>
<path d="M946.4 705.5 L887.3 796.3 H1090.4 L1031.3 705.5"/>
<rect x="982.1" y="704.8" width="13.5" height="12.9"/><rect x="982.1" y="731" width="13.5" height="13.4"/><rect x="982.1" y="757.5" width="13.5" height="13.5"/><path d="M982.1 796.3 V784.2 H995.6 V796.3"/>
</g>
<g opacity="0.10" fill="#000" stroke="#000">
<text x="244.8 315.4 386.8 501.9 583.3 620.4 693.9" y="610.5" font-size="141" stroke-width="1.2">samolet</text>
<text transform="translate(735,592.5) scale(1.225,1)" font-size="141" stroke="none">_</text>
<text x="839.9 886.9 963.1 1035.6" y="610.5" font-size="141" stroke-width="1.2">feed</text>
<g fill="none" stroke-linejoin="round" stroke-linecap="round">
<rect x="137.7" y="474.7" width="88.8" height="91" rx="24" stroke-width="7.5"/>
<circle cx="183.1" cy="520.2" r="19" stroke-width="8"/>
<path d="M227 586.5 L129.5 623.5 L152 631.5 L164 658.5 L172.5 641 L210.5 667.5 Z M152 631.5 L208 604.5 L172.5 641 L183 655.5" stroke-width="6.5"/>
</g>
<circle cx="211.4" cy="493.8" r="5" stroke="none"/>
</g>
</svg>
</body></html>
